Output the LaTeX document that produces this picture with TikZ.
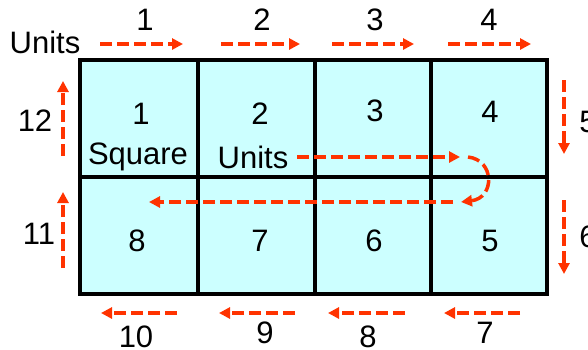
\documentclass[tikz,border=0pt]{standalone}
\usepackage{fontspec}
\setmainfont{Liberation Sans}
\usetikzlibrary{arrows.meta}
\definecolor{cellfill}{HTML}{CCFFFF}
\definecolor{arr}{HTML}{FF3300}
\begin{document}
\begin{tikzpicture}[x=1pt,y=-1pt,
  cell/.style={draw=black,line width=3.5pt,fill=cellfill},
  lbl/.style={font=\fontsize{31}{32}\selectfont,inner sep=0pt},
  darr/.style={draw=arr,line width=3.5pt,dash pattern=on 12pt off 5pt,-{Triangle[length=11pt,width=11pt]}}
]
\useasboundingbox (0,0) rectangle (588,349);
\clip (0,0) rectangle (588,349);
% cells
\foreach \i/\xa/\xb in {1/80/198,2/198/315,3/315/431,4/431/547}{
  \path[cell] (\xa,60) rectangle (\xb,177);
  \path[cell] (\xa,177) rectangle (\xb,294);
}
% cell texts
\node[lbl] (c1) at (141,114) {1};
\node[lbl] (sq) at (138,157) {Square};
\node[lbl] (c2) at (260,114) {2};
\node[lbl] (un) at (253,157) {Units};
\node[lbl] (c3) at (375,111) {3};
\node[lbl] (c4) at (490,112) {4};
\node[lbl] (c8) at (137,241) {8};
\node[lbl] (c7) at (260,241) {7};
\node[lbl] (c6) at (374,241) {6};
\node[lbl] (c5) at (490,241) {5};
% top
\node[lbl] (units) at (45,42) {Units};
\node[lbl] (t1) at (145,20) {1};
\node[lbl] (t2) at (262,20) {2};
\node[lbl] (t3) at (375,20) {3};
\node[lbl] (t4) at (489,20) {4};
\coordinate (a1s) at (100,44); \coordinate (a1e) at (183,44);
\coordinate (a2s) at (221,44); \coordinate (a2e) at (300,44);
\coordinate (a3s) at (332,44); \coordinate (a3e) at (414,44);
\coordinate (a4s) at (448,44); \coordinate (a4e) at (531,44);
\draw[darr] (a1s) -- (a1e);
\draw[darr] (a2s) -- (a2e);
\draw[darr] (a3s) -- (a3e);
\draw[darr] (a4s) -- (a4e);
% left
\node[lbl] (l12) at (35,121) {12};
\node[lbl] (l11) at (39,234) {11};
\coordinate (b1s) at (63,156); \coordinate (b1e) at (63,81);
\coordinate (b2s) at (63,268); \coordinate (b2e) at (63,192);
\draw[darr] (b1s) -- (b1e);
\draw[darr] (b2s) -- (b2e);
% right
\node[lbl] (r5) at (588,122) {5};
\node[lbl] (r6) at (588,237) {6};
\coordinate (r1s) at (564,80); \coordinate (r1e) at (564,154);
\coordinate (r2s) at (564,200); \coordinate (r2e) at (564,274);
\draw[darr] (r1s) -- (r1e);
\draw[darr] (r2s) -- (r2e);
% bottom
\node[lbl] (b10) at (136,337) {10};
\node[lbl] (b9) at (265,333) {9};
\node[lbl] (b8) at (368,337) {8};
\node[lbl] (b7) at (485,333) {7};
\coordinate (d1s) at (177,313); \coordinate (d1e) at (101,313);
\coordinate (d2s) at (295,313); \coordinate (d2e) at (219,313);
\coordinate (d3s) at (405,313); \coordinate (d3e) at (328,313);
\coordinate (d4s) at (520,313); \coordinate (d4e) at (444,313);
\draw[darr] (d1s) -- (d1e);
\draw[darr] (d2s) -- (d2e);
\draw[darr] (d3s) -- (d3e);
\draw[darr] (d4s) -- (d4e);
% inner path
\coordinate (p1) at (297,157);
\coordinate (p2) at (460,157);
\coordinate (q1) at (468,157);
\coordinate (q2) at (461,202);
\coordinate (s1) at (453,202);
\coordinate (s2) at (149,202);
\draw[darr] (p1) -- (p2);
\draw[darr] (q1) .. controls (495,160) and (495,198) .. (q2);
\draw[darr] (s1) -- (s2);
\end{tikzpicture}
\end{document}
